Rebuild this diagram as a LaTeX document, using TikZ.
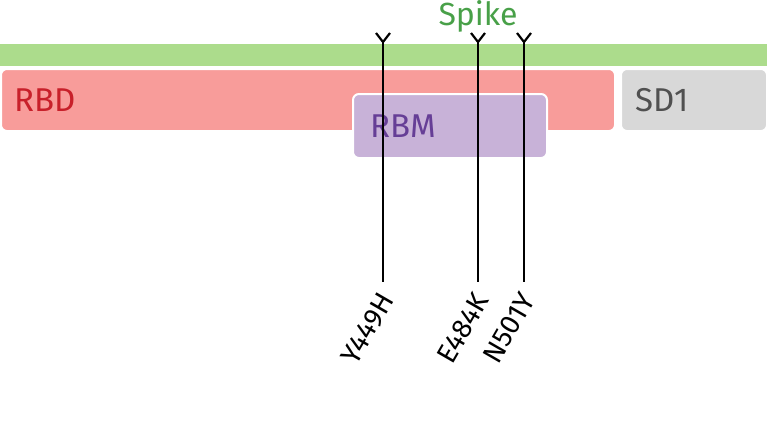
\documentclass[tikz,border=0pt]{standalone}
\usepackage{fontspec}
\setmainfont{Fira Sans}
\usetikzlibrary{positioning}
\definecolor{spikegreen}{RGB}{172,220,140}
\definecolor{spiketext}{RGB}{72,160,72}
\definecolor{rbdfill}{RGB}{248,156,154}
\definecolor{rbdtext}{RGB}{200,32,42}
\definecolor{sdfill}{RGB}{216,216,216}
\definecolor{sdtext}{RGB}{80,80,80}
\definecolor{rbmfill}{RGB}{200,178,216}
\definecolor{rbmtext}{RGB}{102,62,150}

\begin{document}
\begin{tikzpicture}[
    x=1pt, y=1pt,
    dombox/.style={rectangle, draw=white, line width=2pt, rounded corners=6pt, anchor=north west, inner sep=0pt},
    dlabel/.style={anchor=west, inner sep=0pt, font=\fontsize{33}{33}\selectfont},
    site/.style={draw=black, line width=2.2pt},
    mut/.style={rotate=60, anchor=east, inner sep=0pt, font=\fontsize{28}{28}\selectfont}
]
    \useasboundingbox (0,0) rectangle (767,-431);

    % domains
    \node[rectangle, fill=spikegreen, anchor=north west, inner sep=0pt,
          minimum width=767pt, minimum height=22pt] (spike) at (0,-44) {};
    \node[dombox, fill=rbdfill, minimum width=614pt, minimum height=62pt] (rbd) at (0,-68) {};
    \node[dombox, fill=sdfill, minimum width=146pt, minimum height=62pt] (sd1) at (620,-68) {};
    \node[dombox, fill=rbmfill, minimum width=194pt, minimum height=64pt] (rbm) at (352,-93) {};

    \node[font=\fontsize{32}{32}\selectfont, text=spiketext] (spiketitle) at (478,-16) {Spike};
    \node[dlabel, text=rbdtext, right=14pt of rbd.west] (rbdlbl) {RBD};
    \node[dlabel, text=sdtext, right=15pt of sd1.west] (sd1lbl) {SD1};
    \node[dlabel, text=rbmtext, right=18pt of rbm.west] (rbmlbl) {RBM};

    % mutation sites
    \coordinate (y449top) at (383,-42);
    \coordinate (y449end) at (383,-282);
    \coordinate (e484top) at (478,-42);
    \coordinate (e484end) at (478,-282);
    \coordinate (n501top) at (524,-42);
    \coordinate (n501end) at (524,-282);

    \node[mut] (y449) at (387,-295) {Y449H};
    \node[mut] (e484) at (482,-295) {E484K};
    \node[mut] (n501) at (528,-295) {N501Y};

    \draw[site] (y449top) -- (y449end);
    \draw[site] (e484top) -- (e484end);
    \draw[site] (n501top) -- (n501end);
    \draw[site] (y449top) -- ++(-7,9) (y449top) -- ++(7,9);
    \draw[site] (e484top) -- ++(-7,9) (e484top) -- ++(7,9);
    \draw[site] (n501top) -- ++(-7,9) (n501top) -- ++(7,9);
\end{tikzpicture}
\end{document}
